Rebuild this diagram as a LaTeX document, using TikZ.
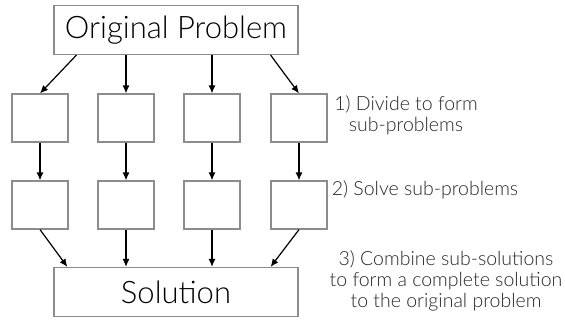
\documentclass[tikz,border=0pt]{standalone}
\usepackage{fontspec}
\setmainfont{Lato Light}
\usetikzlibrary{arrows.meta}

\begin{document}
\begin{tikzpicture}[x=1pt,y=-1pt,
  box/.style={draw=black!45, line width=1.2pt, minimum width=56pt, minimum height=48pt, inner sep=0pt},
  bigbox/.style={box, minimum width=244pt, minimum height=49pt, font=\fontsize{31}{33}\selectfont},
  note/.style={font=\fontsize{19.5}{21}\selectfont, align=center, text=black!85},
  arr/.style={-{Latex[length=8pt,width=7pt]}, line width=1.2pt}]
\useasboundingbox (0,0) rectangle (565,322);
\node[bigbox] (orig) at (176,30) {Original Problem};
\node[bigbox] (sol) at (176,292) {Solution};
\foreach \i/\x in {1/40,2/126,3/212,4/299}{ % the four columns
  \node[box] (d\i) at (\x,118) {};
  \node[box] (s\i) at (\x,205) {};
  \draw[arr] (d\i) -- (s\i);}
% divide
\draw[arr] ([xshift=23]orig.south west) -- (d1.north);
\foreach \i in {2,3}
  \draw[arr] (orig.south -| d\i) -- (d\i.north);
\draw[arr] ([xshift=-28]orig.south east) -- (d4.north);
% combine
\draw[arr] (s1.south) -- ([xshift=14]sol.north west);
\foreach \i in {2,3}
  \draw[arr] (s\i.south) -- (s\i.south |- sol.north);
\draw[arr] (s4.south) -- ([xshift=-28]sol.north east);
% steps
\node[note] (step1) at (406,115) {1) Divide to form\\sub-problems};
\node[note] (step2) at (425,190) {2) Solve sub-problems};
\node[note] (step3) at (446,281) {3) Combine sub-solutions\\to form a complete solution\\to the original problem};
\end{tikzpicture}
\end{document}
